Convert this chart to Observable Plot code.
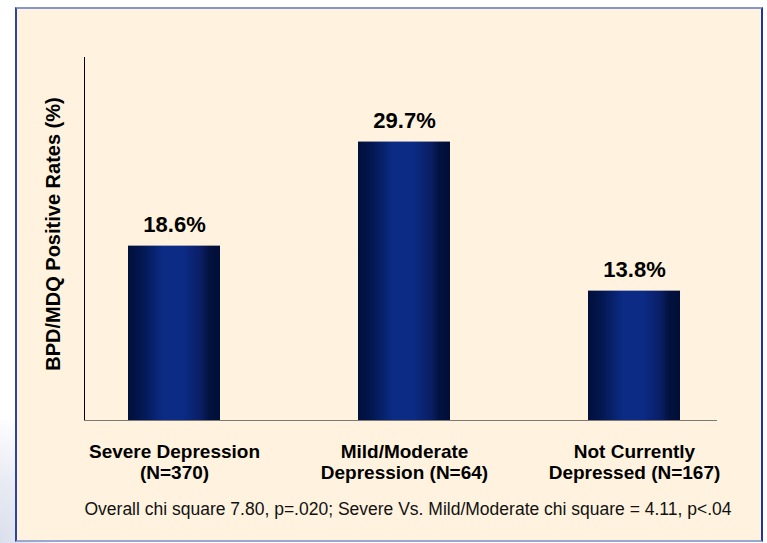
<!DOCTYPE html>
<html>
<head>
<meta charset="utf-8">
<script src="https://cdn.jsdelivr.net/npm/d3@7"></script>
<script src="https://cdn.jsdelivr.net/npm/@observablehq/plot@0.6"></script>
<style>
  html, body { margin: 0; padding: 0; background: #ffffff; }
  #wrap { position: relative; width: 767px; height: 543px; overflow: hidden; font-family: "Liberation Sans", Arial, sans-serif; }
  #shadow { position: absolute; left: 0; top: 420px; width: 60px; height: 123px;
    background: radial-gradient(ellipse at bottom left, #d9dfec 0%, #e8ebf3 35%, rgba(255,255,255,0) 75%); }
  #frame { position: absolute; left: 15px; top: 7px; width: 748px; height: 535px; box-sizing: border-box;
    background: #fff3df; border-top: 2px solid #8796c8; border-left: 2px solid #2b45a2;
    border-right: 2px solid #1b36a0; border-bottom: 2px solid #9aa8cf; }
  #chart { position: absolute; left: 0; top: 0; }
</style>
</head>
<body>
<div id="wrap">
  <div id="shadow"></div>
  <div id="frame"></div>
  <div id="chart"></div>
</div>
<script>
const categories = ["Severe Depression", "Mild/Moderate Depression", "Not Currently Depressed"];
const tickLabels = ["Severe Depression\n(N=370)", "Mild/Moderate\nDepression (N=64)", "Not Currently\nDepressed (N=167)"];
const rates = [18.6, 29.7, 13.8];
const yLabel = "BPD/MDQ Positive Rates (%)";
const caption = "Overall chi square 7.80, p=.020; Severe Vs. Mild/Moderate chi square = 4.11, p<.04";

const data = categories.map((c, i) => ({category: c, rate: rates[i], tick: tickLabels[i]}));

const gradientDefs = () => {
  const defs = d3.create("svg:defs");
  const g = defs.append("linearGradient").attr("id", "barGrad")
    .attr("x1", "0%").attr("x2", "100%").attr("y1", "0%").attr("y2", "0%");
  [[0, "#00103c"], [0.14, "#03164e"], [0.38, "#0b2b85"], [0.6, "#0b2b85"],
   [0.8, "#0a1d62"], [0.88, "#02123f"], [1, "#000f38"]]
    .forEach(([o, c]) => g.append("stop").attr("offset", o).attr("stop-color", c));
  return defs.node();
};

const font = "Liberation Sans, Arial, sans-serif";

const plot = Plot.plot({
  width: 767,
  height: 543,
  marginLeft: 84,
  marginRight: 50,
  marginTop: 57,
  marginBottom: 123,
  style: {background: "transparent", fontFamily: font, color: "#000"},
  x: {domain: categories, range: [59.5, 749.5], paddingInner: 0.598, paddingOuter: 0.299, axis: null},
  y: {domain: [0, 38.72], axis: null},
  marks: [
    gradientDefs,
    Plot.frame({anchor: "left", stroke: "#000"}),
    Plot.ruleY([0], {stroke: "#7d7a74"}),
    Plot.barY(data, {x: "category", y: "rate", fill: "url(#barGrad)"}),
    Plot.text(data, {x: "category", y: "rate", text: d => d.rate.toFixed(1) + "%",
      lineAnchor: "bottom", dy: -14, fontSize: 22, fontWeight: "bold", fill: "#000"}),
    Plot.text(data, {x: "category", text: "tick", frameAnchor: "bottom", lineAnchor: "top",
      dy: 23, lineHeight: 1.1, fontSize: 19, fontWeight: "bold", fill: "#000"}),
    Plot.text([yLabel], {text: d => d, frameAnchor: "left", textAnchor: "middle", rotate: -90, dx: -31, dy: -5,
      fontSize: 20, fontWeight: "bold", fill: "#000"}),
    Plot.text([caption], {text: d => d, frameAnchor: "bottom", lineAnchor: "bottom", dy: 94, dx: 7,
      fontSize: 17.5, fill: "#111"})
  ]
});
document.getElementById("chart").appendChild(plot);
</script>
</body>
</html>
